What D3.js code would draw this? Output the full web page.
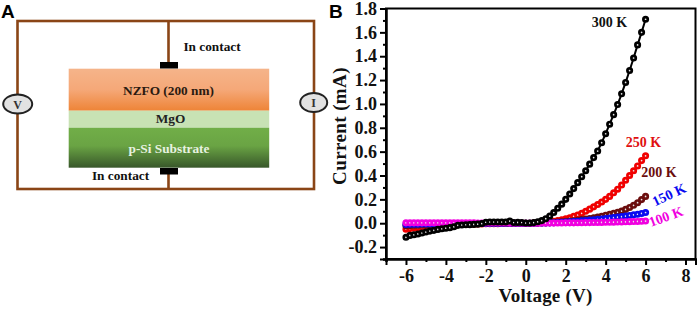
<!DOCTYPE html>
<html>
<head>
<meta charset="utf-8">
<script src="https://cdn.jsdelivr.net/npm/d3@7"></script>
<style>
    html, body {margin: 0; padding: 0; background: #fff;}
    svg {display: block;}
    text {font-family: "Liberation Serif", serif; font-weight: bold;}
    .panel {font-family: "Liberation Sans", sans-serif; font-size: 19px;}
    .axis text {font-size: 18px; fill: #111;}
    .axis path, .axis line {stroke: #000; stroke-width: 2px;}
    .wire {fill: none; stroke: #8a4516; stroke-width: 2.6px;}
    .dial {fill: #e2e2e2; stroke: #222; stroke-width: 2px;}
</style>
</head>
<body>
<script>
//measured voltage sweep, same for every temperature
var voltage = [-6,-5.8,-5.6,-5.4,-5.2,-5,-4.8,-4.6,-4.4,-4.2,-4,-3.8,-3.6,-3.4,-3.2,-3,-2.8,-2.6,-2.4,-2.2,-2,-1.8,-1.6,-1.4,-1.2,-1,-0.8,-0.6,-0.4,-0.2,
    0,0.2,0.4,0.6,0.8,1,1.2,1.4,1.6,1.8,2,2.2,2.4,2.6,2.8,3,3.2,3.4,3.6,3.8,4,4.2,4.4,4.6,4.8,5,5.2,5.4,5.6,5.8,6];

//current (mA), one list per temperature
var current300 = [-0.118,-0.102,-0.097,-0.09,-0.082,-0.074,-0.066,-0.06,-0.052,-0.047,-0.042,-0.037,-0.03,-0.018,-0.015,-0.013,-0.012,-0.01,-0.008,-0.003,0.008,0.01,0.01,0.01,0.01,0.01,0.018,0.006,0.007,0.006,
    0.002,0.002,0.005,0.012,0.022,0.038,0.06,0.09,0.125,0.16,0.2,0.245,0.29,0.34,0.39,0.44,0.495,0.55,0.605,0.675,0.75,0.83,0.91,0.995,1.085,1.18,1.28,1.385,1.495,1.6,1.71];
var current250 = [-0.05,-0.045,-0.041,-0.038,-0.035,-0.032,-0.029,-0.026,-0.023,-0.021,-0.018,-0.016,-0.014,-0.012,-0.011,-0.01,-0.009,-0.008,-0.007,-0.006,-0.005,-0.005,-0.004,-0.004,-0.003,-0.003,-0.002,-0.002,-0.001,-0.001,
    0,0,0.001,0.002,0.004,0.007,0.011,0.016,0.022,0.029,0.037,0.046,0.057,0.069,0.083,0.1,0.118,0.137,0.157,0.178,0.2,0.225,0.255,0.285,0.32,0.36,0.4,0.44,0.48,0.525,0.565];
var current200 = [-0.022,-0.02,-0.018,-0.017,-0.015,-0.014,-0.012,-0.011,-0.01,-0.009,-0.008,-0.007,-0.006,-0.006,-0.005,-0.005,-0.004,-0.004,-0.003,-0.003,-0.002,-0.002,-0.002,-0.001,-0.001,-0.001,-0.001,0,0,0,
    0,0,0.001,0.001,0.002,0.003,0.005,0.007,0.009,0.012,0.015,0.018,0.021,0.025,0.03,0.035,0.04,0.046,0.052,0.059,0.067,0.075,0.083,0.092,0.102,0.116,0.132,0.15,0.172,0.198,0.225];
var current150 = [-0.01,-0.009,-0.008,-0.008,-0.007,-0.007,-0.006,-0.006,-0.005,-0.005,-0.004,-0.004,-0.004,-0.003,-0.003,-0.003,-0.002,-0.002,-0.002,-0.002,-0.001,-0.001,-0.001,-0.001,-0.001,0,0,0,0,0,
    0,0,0,0.001,0.001,0.002,0.003,0.004,0.006,0.008,0.01,0.012,0.015,0.017,0.02,0.023,0.026,0.029,0.032,0.035,0.039,0.043,0.047,0.051,0.055,0.06,0.065,0.07,0.075,0.082,0.09];
var current100 = [0.003,0.003,0.003,0.003,0.003,0.003,0.003,0.003,0.003,0.003,0.003,0.003,0.003,0.003,0.003,0.003,0.003,0.003,0.002,0.002,0.002,0.002,0.002,0.002,0.002,0.002,0.001,0.001,0.001,0.001,
    0,0,0,0,0.001,0.001,0.001,0.001,0.002,0.002,0.003,0.003,0.003,0.004,0.004,0.005,0.005,0.006,0.006,0.007,0.008,0.008,0.009,0.01,0.011,0.012,0.013,0.014,0.015,0.016,0.018];

//tick labels
var xTicks = [-6,-4,-2,0,2,4,6,8];
var xMinor = [-7,-5,-3,-1,1,3,5,7];
var yTicks = [-0.2,0,0.2,0.4,0.6,0.8,1,1.2,1.4,1.6,1.8];
var yMinor = [-0.3,-0.1,0.1,0.3,0.5,0.7,0.9,1.1,1.3,1.5,1.7];

//series in drawing order, black ends up on top
var seriesNames = ["250 K","200 K","150 K","100 K","300 K"];
var seriesValues = [current250,current200,current150,current100,current300];
var seriesColors = ["#f00000","#6b0d0d","#0a0af0","#f000e0","#000000"];

window.onload = function(){

    var w = 699, h = 309;

    var svg = d3.select("body")
        .append("svg")
        .attr("width", w)
        .attr("height", h);

    //layer gradients for the schematic
    var defs = svg.append("defs");
    function addGradient(id, stops){
        var g = defs.append("linearGradient")
            .attr("id", id)
            .attr("x1", 0).attr("y1", 0)
            .attr("x2", 0).attr("y2", 1);
        stops.forEach(function(s){
            g.append("stop").attr("offset", s[0]).attr("stop-color", s[1]);
        });
    }
    addGradient("nzfo", [[0,"#f5b48a"],[0.5,"#f5a878"],[1,"#ee8437"]]);
    addGradient("si", [[0,"#71ae48"],[0.45,"#6aa444"],[1,"#38572a"]]);

    /***** panel A: device schematic *****/
    var schem = svg.append("g").attr("class", "schematic");

    schem.append("rect").attr("class", "wire")
        .attr("x", 17.5).attr("y", 21).attr("width", 296.5).attr("height", 168);
    schem.append("line").attr("class", "wire")
        .attr("x1", 168.5).attr("x2", 168.5).attr("y1", 21).attr("y2", 64);
    schem.append("line").attr("class", "wire")
        .attr("x1", 168.5).attr("x2", 168.5).attr("y1", 172).attr("y2", 189);

    var layers = [
        {y: 68.7, h: 42, fill: "url(#nzfo)"},
        {y: 110.7, h: 17, fill: "#c8e2b4"},
        {y: 127.7, h: 40, fill: "url(#si)"}
    ];
    schem.selectAll(".layer")
        .data(layers)
        .enter()
        .append("rect")
        .attr("class", "layer")
        .attr("x", 68.7)
        .attr("width", 200.5)
        .attr("y", function(d){ return d.y; })
        .attr("height", function(d){ return d.h; })
        .style("fill", function(d){ return d.fill; });

    //contact pads
    schem.selectAll(".pad")
        .data([62, 168])
        .enter()
        .append("rect")
        .attr("class", "pad")
        .attr("x", 160)
        .attr("y", function(d){ return d; })
        .attr("width", 18)
        .attr("height", 6.5)
        .style("fill", "#000");

    //meters
    var dials = [{x: 17.7, y: 104, rx: 14.5, t: "V"}, {x: 313.7, y: 102.5, rx: 13.5, t: "I"}];
    schem.selectAll(".dial")
        .data(dials)
        .enter()
        .append("ellipse")
        .attr("class", "dial")
        .attr("cx", function(d){ return d.x; })
        .attr("cy", function(d){ return d.y; })
        .attr("rx", function(d){ return d.rx; })
        .attr("ry", 9.5);
    schem.selectAll(".dialText")
        .data(dials)
        .enter()
        .append("text")
        .attr("x", function(d){ return d.x; })
        .attr("y", function(d){ return d.y + 4.5; })
        .attr("text-anchor", "middle")
        .style("font-size", "12px")
        .style("fill", "#333")
        .text(function(d){ return d.t; });

    var schemLabels = [
        {t: "In contact", x: 212, y: 51, c: "#111"},
        {t: "In contact", x: 120.5, y: 180, c: "#111"},
        {t: "NZFO (200 nm)", x: 168.5, y: 95, c: "#2b1a10"},
        {t: "MgO", x: 170.5, y: 123, c: "#222"},
        {t: "p-Si Substrate", x: 169, y: 153, c: "#e8f2e0"}
    ];
    schem.selectAll(".schemLabel")
        .data(schemLabels)
        .enter()
        .append("text")
        .attr("class", "schemLabel")
        .attr("x", function(d){ return d.x; })
        .attr("y", function(d){ return d.y; })
        .attr("text-anchor", "middle")
        .style("font-size", "13.3px")
        .style("fill", function(d){ return d.c; })
        .text(function(d){ return d.t; });

    svg.append("text").attr("class", "panel").attr("x", 1).attr("y", 17.5).text("A");
    svg.append("text").attr("class", "panel").attr("x", 329).attr("y", 17.5).text("B");

    /***** panel B: I-V curves *****/
    var x = d3.scaleLinear()
        .domain([-7, 8.5])
        .range([386, 695.5]);

    var y = d3.scaleLinear()
        .domain([-0.3, 1.8])
        .range([259, 8.5]);

    //frame, top and right have no ticks
    svg.append("rect")
        .attr("x", 386).attr("y", 8.5)
        .attr("width", 309.5).attr("height", 250.5)
        .style("fill", "none")
        .style("stroke", "#000")
        .style("stroke-width", 2);

    //minor ticks first, no labels
    svg.append("g")
        .attr("class", "axis")
        .attr("transform", "translate(0,259)")
        .call(d3.axisBottom(x).tickValues(xMinor).tickSize(3).tickFormat(""));
    svg.append("g")
        .attr("class", "axis")
        .attr("transform", "translate(386,0)")
        .call(d3.axisLeft(y).tickValues(yMinor).tickSize(3).tickFormat(""));

    svg.append("g")
        .attr("class", "axis")
        .attr("transform", "translate(0,259)")
        .call(d3.axisBottom(x).tickValues(xTicks).tickSize(6).tickPadding(4).tickFormat(d3.format("d")));
    svg.append("g")
        .attr("class", "axis")
        .attr("transform", "translate(386,0)")
        .call(d3.axisLeft(y).tickValues(yTicks).tickSize(6).tickPadding(3).tickFormat(d3.format(".1f")));

    //the hyphen is used in the picture, not the long minus
    svg.selectAll(".axis .tick text").text(function(){
        return d3.select(this).text().replace("\u2212", "-");
    });

    var line = d3.line()
        .x(function(d){ return x(d[0]); })
        .y(function(d){ return y(d[1]); });

    seriesValues.forEach(function(values, i){
        var pts = d3.zip(voltage, values);
        var g = svg.append("g").attr("class", "series");

        g.append("path")
            .attr("d", line(pts))
            .style("fill", "none")
            .style("stroke", seriesColors[i])
            .style("stroke-width", 2);

        g.selectAll("circle")
            .data(pts)
            .enter()
            .append("circle")
            .attr("cx", function(d){ return x(d[0]); })
            .attr("cy", function(d){ return y(d[1]); })
            .attr("r", 2.2)
            .style("fill", "#e8e8e8")
            .style("stroke", seriesColors[i])
            .style("stroke-width", 2.7);
    });

    //temperature labels
    var tempLabels = [
        {t: "300 K", x: 609.5, y: 27, r: 0, c: "#111"},
        {t: "250 K", x: 643.5, y: 147, r: 0, c: "#e01010"},
        {t: "200 K", x: 659, y: 177, r: 0, c: "#6b0d0d"},
        {t: "150 K", x: 671, y: 199, r: -25, c: "#0a0af0"},
        {t: "100 K", x: 667.5, y: 221, r: -20, c: "#f000e0"}
    ];
    svg.selectAll(".tempLabel")
        .data(tempLabels)
        .enter()
        .append("text")
        .attr("class", "tempLabel")
        .attr("text-anchor", "middle")
        .attr("transform", function(d){
            return "translate(" + d.x + "," + d.y + ") rotate(" + d.r + ")";
        })
        .style("font-size", "14px")
        .style("fill", function(d){ return d.c; })
        .text(function(d){ return d.t; });

    //axis titles
    svg.append("text")
        .attr("x", 545.5)
        .attr("y", 302)
        .attr("text-anchor", "middle")
        .style("font-size", "19px")
        .style("letter-spacing", "0.2px")
        .style("fill", "#111")
        .text("Voltage (V)");

    svg.append("text")
        .attr("transform", "translate(346,126) rotate(-90)")
        .attr("text-anchor", "middle")
        .style("font-size", "19px")
        .style("letter-spacing", "0.4px")
        .style("fill", "#111")
        .text("Current (mA)");
};
</script>
</body>
</html>
